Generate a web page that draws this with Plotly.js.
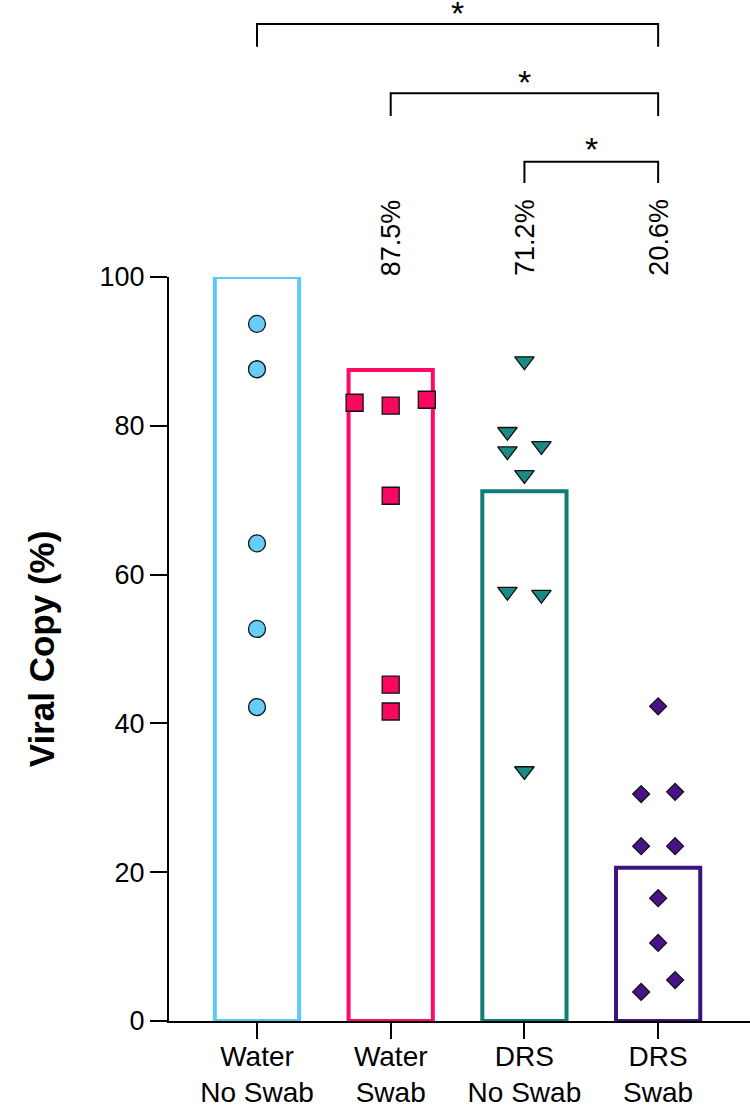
<!DOCTYPE html>
<html><head><meta charset="utf-8">
<script src="https://cdn.plot.ly/plotly-3.0.1.min.js"></script>
<style>html,body{margin:0;padding:0;background:#fff;} #chart{width:750px;height:1109px;}</style>
</head><body><div id="chart"></div>
<script>
// ---- data ----
const categories = ["Water<br>No Swab", "Water<br>Swab", "DRS<br>No Swab", "DRS<br>Swab"];
const barValues = [100, 87.5, 71.2, 20.6];
const barLabels = ["", "87.5%", "71.2%", "20.6%"];
const waterNoSwab = [93.7, 87.6, 64.2, 52.7, 42.2];
const waterNoSwabCol = [0, 0, 0, 0, 0];
const waterSwab = [83.1, 82.7, 83.5, 70.6, 45.2, 41.6];
const waterSwabCol = [-1, 0, 1, 0, 0, 0];
const drsNoSwab = [88.7, 79.2, 76.6, 77.3, 73.4, 57.7, 57.3, 33.6];
const drsNoSwabCol = [0, -1, -1, 1, 0, -1, 1, 0];
const drsSwab = [42.3, 30.5, 30.8, 23.5, 23.5, 16.5, 10.5, 5.5, 3.9];
const drsSwabCol = [0, -1, 1, -1, 1, 0, 0, 1, -1];
const comparisons = [[0, 3], [1, 3], [2, 3]];
const compLabels = ["*", "*", "*"];
const yTicks = [0, 20, 40, 60, 80, 100];

// ---- styles ----
const FONT = "Liberation Sans, Arial, Helvetica, sans-serif";
const barColors = ["#5CC8FA", "#FF0A64", "#137C78", "#3C1480"];
const markerFill = ["#66CCF8", "#F8085F", "#1A8A85", "#48138A"];
const groups = [
  {y: waterNoSwab, col: waterNoSwabCol, symbol: "circle", size: 17, spread: 0.27},
  {y: waterSwab, col: waterSwabCol, symbol: "square", size: 17, spread: 0.27},
  {y: drsNoSwab, col: drsNoSwabCol, symbol: "triangle-down", size: 17, spread: 0.127},
  {y: drsSwab, col: drsSwabCol, symbol: "diamond", size: 13, spread: 0.127}
];

const idx = categories.map((c, i) => i);
const traces = [{
  type: "bar", x: idx, y: barValues, width: 0.63,
  marker: {color: "rgba(0,0,0,0)", line: {color: barColors, width: 4}},
  cliponaxis: false, hoverinfo: "skip"
}];
groups.forEach((g, i) => {
  traces.push({
    type: "scatter", mode: "markers",
    x: g.col.map(c => i + c * g.spread), y: g.y,
    cliponaxis: false,
    marker: {symbol: g.symbol, size: g.size, color: markerFill[i], line: {color: "#111", width: 1.3}}
  });
});

// pixel -> paper (plot area from y=277 to y=1021)
const py = px => (1021 - px) / 744;
const bracketY = [[24, 46.7], [93.3, 116], [161.7, 183]];
const starBoxBottom = [34, 103, 170];

const shapes = comparisons.map((c, k) => ({
  type: "path", xref: "x", yref: "paper",
  path: `M${c[0]},${py(bracketY[k][1])} L${c[0]},${py(bracketY[k][0])} L${c[1]},${py(bracketY[k][0])} L${c[1]},${py(bracketY[k][1])}`,
  line: {color: "#000", width: 2}
}));

const annotations = [];
barLabels.forEach((t, i) => {
  if (!t) return;
  annotations.push({x: i, xref: "x", y: py(278), yref: "paper", yanchor: "bottom", xanchor: "center",
    text: t, textangle: -90, showarrow: false, font: {family: FONT, size: 27, color: "#000"}});
});
comparisons.forEach((c, k) => {
  annotations.push({x: (c[0] + c[1]) / 2, xref: "x", y: py(starBoxBottom[k]), yref: "paper", yanchor: "bottom",
    text: compLabels[k], showarrow: false, font: {family: FONT, size: 34, color: "#000"}});
});

const layout = {
  width: 750, height: 1109,
  margin: {l: 169, r: 0, t: 277, b: 88},
  paper_bgcolor: "#fff", plot_bgcolor: "#fff",
  showlegend: false,
  font: {family: FONT, color: "#000"},
  xaxis: {
    range: [-0.658, 3.687], tickvals: idx, ticktext: categories,
    showline: true, linecolor: "#000", linewidth: 2,
    ticks: "outside", ticklen: 16, tickwidth: 2, tickcolor: "#000",
    showgrid: false, zeroline: false, automargin: false,
    ticklabelstandoff: -7,
    tickfont: {family: FONT, size: 28, color: "#000"}
  },
  yaxis: {
    range: [0, 100], tickvals: yTicks,
    showline: true, linecolor: "#000", linewidth: 2,
    ticks: "outside", ticklen: 17, tickwidth: 2, tickcolor: "#000",
    showgrid: false, zeroline: false, automargin: false,
    tickfont: {family: FONT, size: 27, color: "#000"},
    title: {text: "<b>Viral Copy (%)</b>", font: {family: FONT, size: 35, color: "#000"}, standoff: 34}
  },
  shapes: shapes,
  annotations: annotations
};

Plotly.newPlot("chart", traces, layout, {staticPlot: true, displayModeBar: false});
</script>
</body></html>
